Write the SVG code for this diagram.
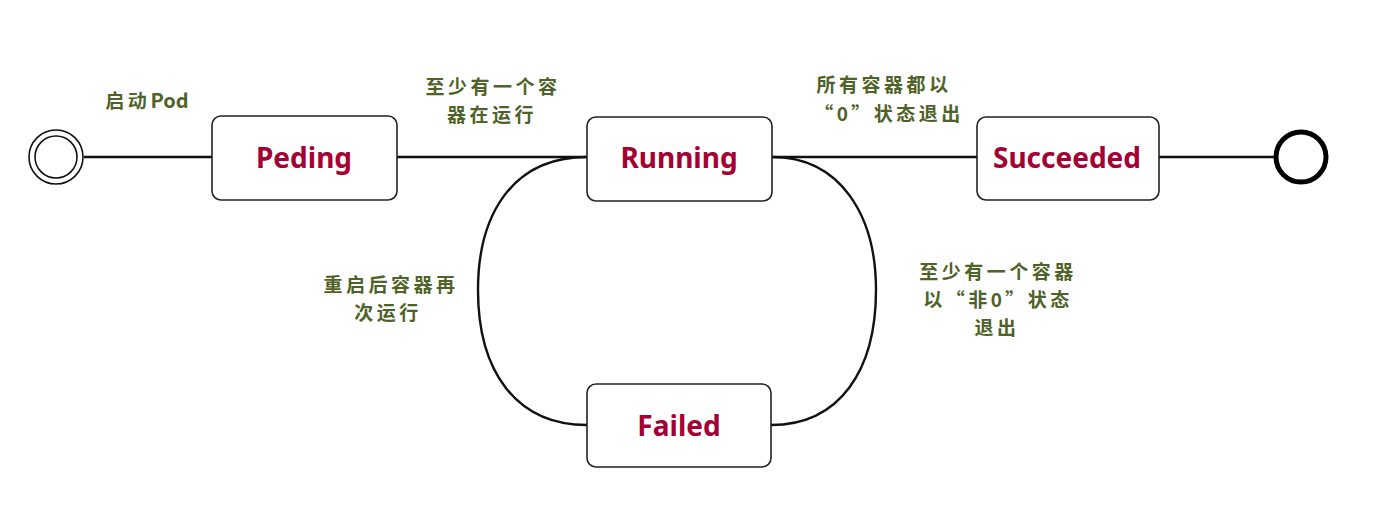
<svg xmlns="http://www.w3.org/2000/svg" width="1375" height="529" viewBox="0 0 1375 529">
<style>
.node rect{fill:#fff;stroke:#222;stroke-width:1.6}
.nl{font-family:"Noto Sans","Liberation Sans",sans-serif;font-weight:bold;font-size:28px;fill:#a50034;text-anchor:middle}
.el{font-family:"Noto Sans CJK SC","Noto Sans",sans-serif;font-weight:bold;font-size:19px;fill:#4f6228;text-anchor:middle;letter-spacing:3.5px}
.lat{letter-spacing:0;font-size:20px}
.c{fill:none;stroke:#111;stroke-width:2.4}
</style>
<rect width="1375" height="529" fill="#fff"/>
<g id="connectors">
<line class="c" x1="84" y1="157" x2="212" y2="157" stroke-width="3.5"/>
<line class="c" x1="397" y1="157" x2="587" y2="157"/>
<line class="c" x1="772" y1="157" x2="977" y2="157"/>
<line class="c" x1="1159" y1="157" x2="1274" y2="157"/>
<path class="c" d="M587,157 C512,157 478,215 478,290 C478,370 515,425 587,425"/>
<path class="c" d="M772,157 C840,157 876,215 876,290 C876,370 840,425 771,425"/>
</g>
<g id="start">
<circle cx="56" cy="157" r="27" fill="#fff" stroke="#111" stroke-width="1.6"/>
<circle cx="56" cy="157" r="21" fill="#fff" stroke="#111" stroke-width="1.6"/>
</g>
<g id="end">
<circle cx="1301" cy="157" r="25" fill="#fff" stroke="#000" stroke-width="5"/>
</g>
<g id="peding" class="node">
<rect x="212" y="116" width="185" height="84" rx="9"/>
<text class="nl" x="304" y="168">Peding</text>
</g>
<g id="running" class="node">
<rect x="587" y="117" width="185" height="84" rx="9"/>
<text class="nl" x="679" y="168">Running</text>
</g>
<g id="succeeded" class="node">
<rect x="977" y="117" width="182" height="83" rx="9"/>
<text class="nl" x="1067" y="168">Succeeded</text>
</g>
<g id="failed" class="node">
<rect x="587" y="384" width="184" height="83" rx="9"/>
<text class="nl" x="679" y="436">Failed</text>
</g>
<g id="labels">
<text class="el" x="147" y="108">启动<tspan class="lat">Pod</tspan></text>
<text class="el" x="493" y="94">至少有一个容</text>
<text class="el" x="492" y="122">器在运行</text>
<text class="el" x="884" y="92">所有容器都以</text>
<text class="el" x="889" y="121">“0”状态退出</text>
<text class="el" x="391" y="292">重启后容器再</text>
<text class="el" x="388" y="320">次运行</text>
<text class="el" x="998" y="279">至少有一个容器</text>
<text class="el" x="998" y="307">以“非0”状态</text>
<text class="el" x="997" y="335">退出</text>
</g>
</svg>
